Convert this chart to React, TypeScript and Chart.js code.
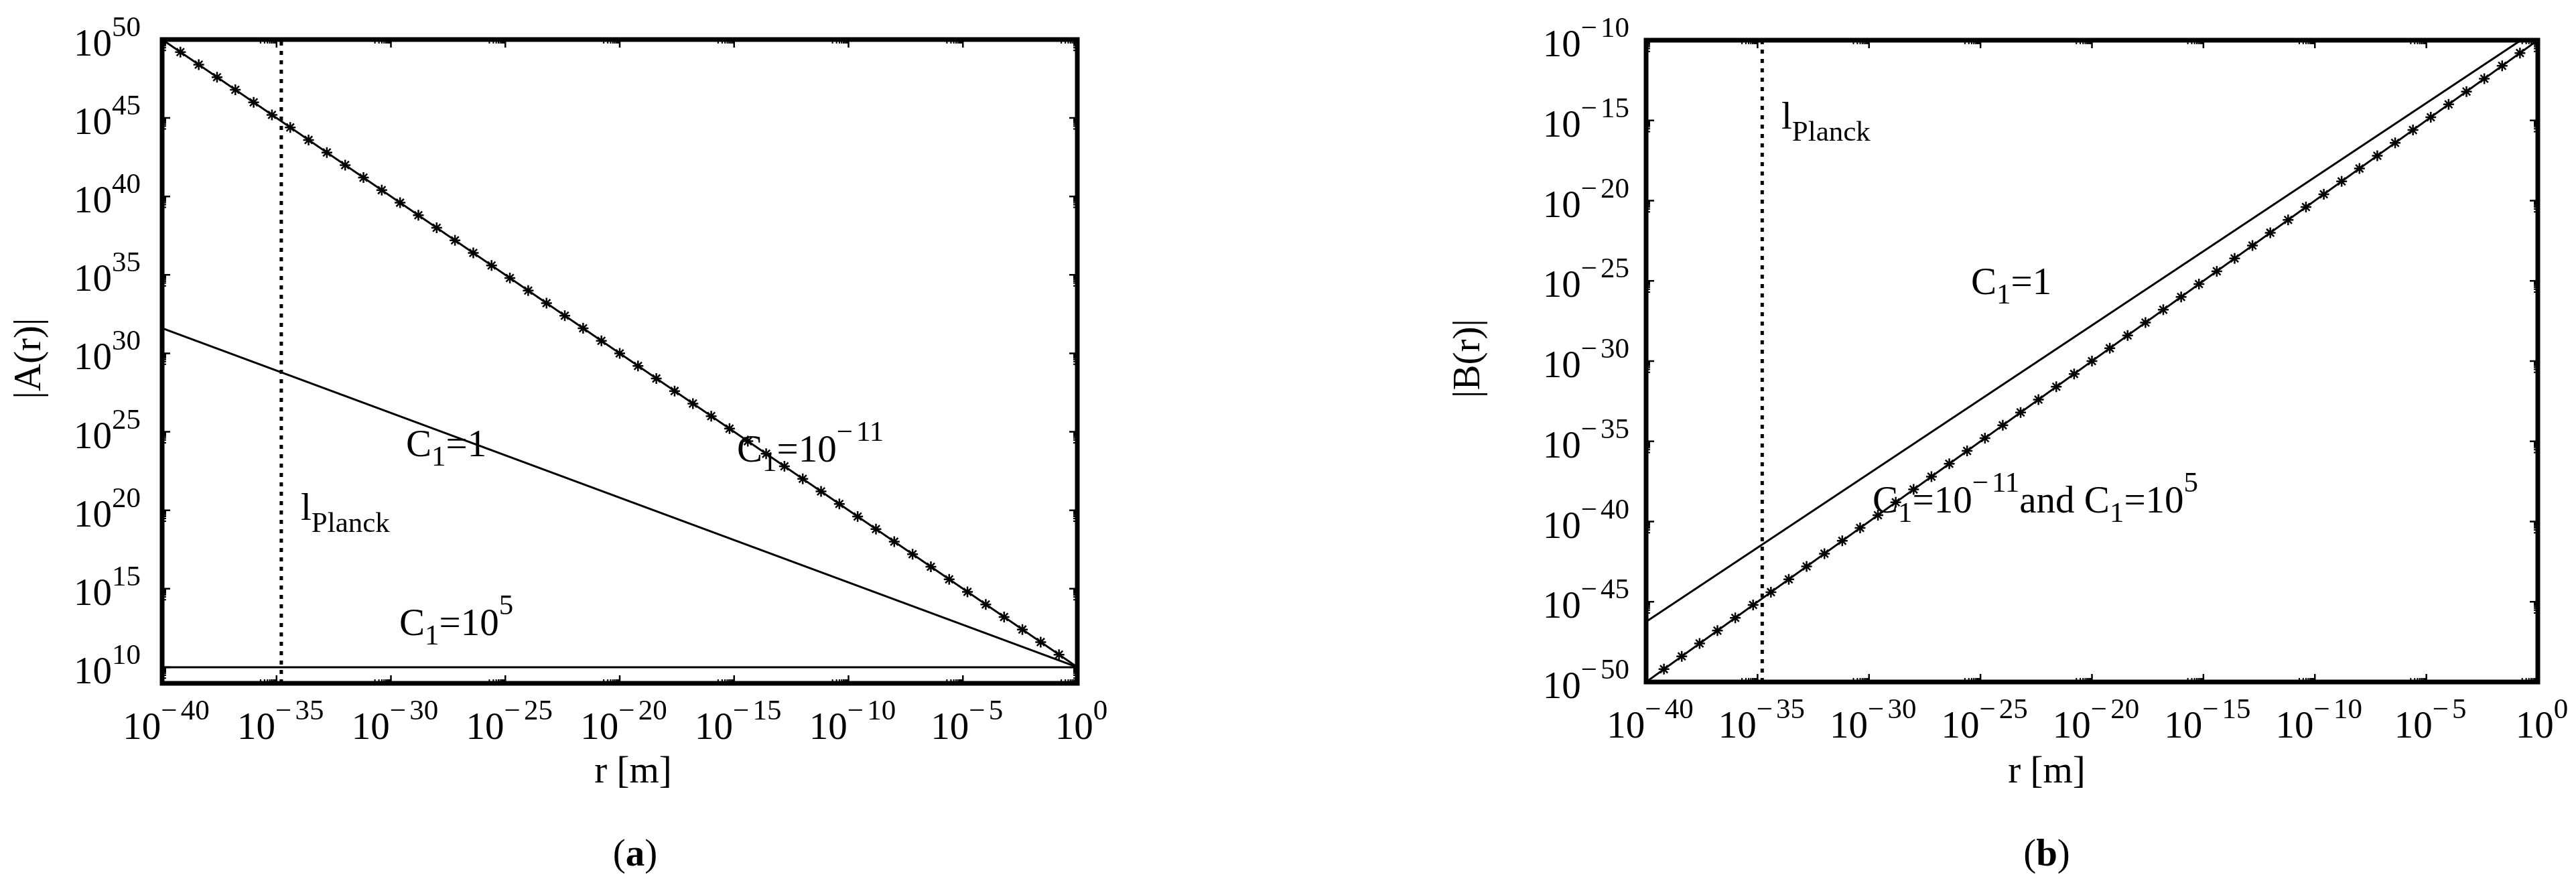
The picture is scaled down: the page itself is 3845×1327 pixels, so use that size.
import React, { useEffect, useRef } from "react";
import { Chart, registerables } from "chart.js";

Chart.register(...registerables);

const FONT = '"Liberation Serif", "DejaVu Serif", serif';

// ---- data (log10 exponents) ----
const planckLength = 1.616e-35;
const xTickExponents = [-40, -35, -30, -25, -20, -15, -10, -5, 0];
const aTickExponents = [10, 15, 20, 25, 30, 35, 40, 45, 50];
const bTickExponents = [-50, -45, -40, -35, -30, -25, -20, -15, -10];

const lineEndsR = [-40, 0];
const aC1Small = [50, 10]; // C1 = 1e-11
const aC1One = [31.6, 10]; // C1 = 1
const aC1Big = [10, 10]; // C1 = 1e5
const bC1SmallBig = [-50, -10]; // C1 = 1e-11 and C1 = 1e5
const bC1One = [-46.24, -9.3]; // C1 = 1

const markerR = [
  -39.2, -38.4, -37.6, -36.8, -36.0, -35.2, -34.4, -33.6, -32.8, -32.0, -31.2, -30.4, -29.6,
  -28.8, -28.0, -27.2, -26.4, -25.6, -24.8, -24.0, -23.2, -22.4, -21.6, -20.8, -20.0, -19.2,
  -18.4, -17.6, -16.8, -16.0, -15.2, -14.4, -13.6, -12.8, -12.0, -11.2, -10.4, -9.6, -8.8,
  -8.0, -7.2, -6.4, -5.6, -4.8, -4.0, -3.2, -2.4, -1.6, -0.8,
];
const aMarkerA = [
  49.2, 48.4, 47.6, 46.8, 46.0, 45.2, 44.4, 43.6, 42.8, 42.0, 41.2, 40.4, 39.6, 38.8, 38.0,
  37.2, 36.4, 35.6, 34.8, 34.0, 33.2, 32.4, 31.6, 30.8, 30.0, 29.2, 28.4, 27.6, 26.8, 26.0,
  25.2, 24.4, 23.6, 22.8, 22.0, 21.2, 20.4, 19.6, 18.8, 18.0, 17.2, 16.4, 15.6, 14.8, 14.0,
  13.2, 12.4, 11.6, 10.8,
];
const bMarkerB = [
  -49.2, -48.4, -47.6, -46.8, -46.0, -45.2, -44.4, -43.6, -42.8, -42.0, -41.2, -40.4, -39.6,
  -38.8, -38.0, -37.2, -36.4, -35.6, -34.8, -34.0, -33.2, -32.4, -31.6, -30.8, -30.0, -29.2,
  -28.4, -27.6, -26.8, -26.0, -25.2, -24.4, -23.6, -22.8, -22.0, -21.2, -20.4, -19.6, -18.8,
  -18.0, -17.2, -16.4, -15.6, -14.8, -14.0, -13.2, -12.4, -11.6, -10.8,
];

type Seg = [string, "n" | "sub" | "sup" | "b"];
type TextItem = { segs: Seg[]; x: number; y: number; align?: "left" | "center"; rotate?: boolean; subDrop?: number; supRise?: number };

const toXY = (rs: number[], vs: number[]) => rs.map((r, i) => ({ x: Math.pow(10, r), y: Math.pow(10, vs[i]) }));

const MAIN = 57;
const SMALL = 43;

function segFont(kind: string) {
  if (kind === "sub" || kind === "sup") return `${SMALL}px ${FONT}`;
  if (kind === "b") return `bold ${MAIN}px ${FONT}`;
  return `${MAIN}px ${FONT}`;
}

// minus sign gets a little extra room, as in the math typesetting of the original
function segWidth(ctx: CanvasRenderingContext2D, t: string) {
  let w = ctx.measureText(t).width;
  if (t.startsWith("\u2212")) w += 5;
  return w;
}

function drawSeg(ctx: CanvasRenderingContext2D, t: string, x: number, y: number) {
  if (t.startsWith("\u2212")) {
    ctx.fillText("\u2212", x, y);
    const mw = ctx.measureText("\u2212").width + 5;
    ctx.fillText(t.slice(1), x + mw, y);
  } else {
    ctx.fillText(t, x, y);
  }
}

function richWidth(ctx: CanvasRenderingContext2D, segs: Seg[]) {
  let total = 0;
  for (const [t, k] of segs) {
    ctx.font = segFont(k);
    total += segWidth(ctx, t);
  }
  return total;
}

function drawRich(ctx: CanvasRenderingContext2D, item: TextItem) {
  ctx.save();
  ctx.fillStyle = "#000";
  ctx.textBaseline = "alphabetic";
  ctx.textAlign = "left";
  const total = richWidth(ctx, item.segs);
  ctx.translate(item.x, item.y);
  if (item.rotate) ctx.rotate(-Math.PI / 2);
  let cx = item.align === "center" ? -total / 2 : 0;
  for (const [t, k] of item.segs) {
    ctx.font = segFont(k);
    const dy = k === "sub" ? item.subDrop ?? 14 : k === "sup" ? -(item.supRise ?? 31) : 0;
    drawSeg(ctx, t, cx, dy);
    cx += segWidth(ctx, t);
  }
  ctx.restore();
}

function powLabel(exp: number): Seg[] {
  return [
    ["10", "n"],
    [exp < 0 ? "\u2212" + Math.abs(exp) : String(exp), "sup"],
  ];
}

type PanelSpec = {
  padding: { left: number; right: number; top: number; bottom: number };
  yMinExp: number;
  yMaxExp: number;
  yTicks: number[];
  yLabelGap: number;
  datasets: any[];
  texts: TextItem[];
};

function framePlugin(spec: PanelSpec) {
  return {
    id: "frame",
    afterDraw(chart: any) {
      const { ctx, chartArea: ca } = chart;
      const xs = chart.scales.x;
      const ys = chart.scales.y;
      ctx.save();
      ctx.strokeStyle = "#000";
      ctx.lineCap = "butt";
      // x ticks (bottom and top, inward)
      for (const e of xTickExponents) {
        const px = xs.getPixelForValue(Math.pow(10, e));
        ctx.lineWidth = 2.5;
        ctx.beginPath();
        ctx.moveTo(px, ca.bottom);
        ctx.lineTo(px, ca.bottom - 12);
        ctx.moveTo(px, ca.top);
        ctx.lineTo(px, ca.top + 12);
        ctx.stroke();
        ctx.lineWidth = 2;
        for (let k = 2; k <= 9; k++) {
          const v = e - 1 + Math.log10(k);
          if (v < -40) continue;
          const q = xs.getPixelForValue(Math.pow(10, v));
          ctx.beginPath();
          ctx.moveTo(q, ca.bottom);
          ctx.lineTo(q, ca.bottom - 6);
          ctx.moveTo(q, ca.top);
          ctx.lineTo(q, ca.top + 6);
          ctx.stroke();
        }
      }
      // y ticks (left and right, inward)
      for (const e of spec.yTicks) {
        const py = ys.getPixelForValue(Math.pow(10, e));
        ctx.lineWidth = 2.5;
        ctx.beginPath();
        ctx.moveTo(ca.left, py);
        ctx.lineTo(ca.left + 12, py);
        ctx.moveTo(ca.right, py);
        ctx.lineTo(ca.right - 12, py);
        ctx.stroke();
        ctx.lineWidth = 2;
        for (let k = 2; k <= 9; k++) {
          const v = e - 1 + Math.log10(k);
          if (v < spec.yMinExp) continue;
          const q = ys.getPixelForValue(Math.pow(10, v));
          ctx.beginPath();
          ctx.moveTo(ca.left, q);
          ctx.lineTo(ca.left + 6, q);
          ctx.moveTo(ca.right, q);
          ctx.lineTo(ca.right - 6, q);
          ctx.stroke();
        }
      }
      // box
      ctx.lineWidth = 7;
      ctx.strokeRect(ca.left, ca.top, ca.right - ca.left, ca.bottom - ca.top);
      ctx.restore();

      // tick labels
      for (const e of xTickExponents) {
        const px = xs.getPixelForValue(Math.pow(10, e));
        drawRich(ctx, { segs: powLabel(e), x: px + 6, y: ca.bottom + 83, align: "center", supRise: 29 });
      }
      for (const e of spec.yTicks) {
        const py = ys.getPixelForValue(Math.pow(10, e));
        const segs = powLabel(e);
        const w = richWidth(ctx, segs);
        drawRich(ctx, { segs, x: ca.left - spec.yLabelGap - w, y: py + 24, supRise: 29 });
      }
      for (const t of spec.texts) drawRich(ctx, t);
    },
  };
}

function buildConfig(spec: PanelSpec): any {
  return {
    type: "scatter",
    data: { datasets: spec.datasets },
    options: {
      responsive: false,
      animation: false,
      devicePixelRatio: 1,
      layout: { padding: spec.padding },
      plugins: { legend: { display: false }, tooltip: { enabled: false } },
      events: [],
      scales: {
        x: { type: "logarithmic", min: 1e-40, max: 1, display: false },
        y: { type: "logarithmic", min: Math.pow(10, spec.yMinExp), max: Math.pow(10, spec.yMaxExp), display: false },
      },
    },
    plugins: [framePlugin(spec)],
  };
}

const lineDs = (data: any[]) => ({
  data,
  showLine: true,
  borderColor: "#000",
  borderWidth: 3,
  pointRadius: 0,
  tension: 0,
});
const markerDs = (data: any[]) => ({
  data,
  showLine: false,
  pointStyle: "star",
  pointRadius: 8,
  borderWidth: 2.5,
  borderColor: "#000",
  backgroundColor: "#000",
});
const planckDs = (yMinExp: number, yMaxExp: number) => ({
  data: [
    { x: planckLength, y: Math.pow(10, yMinExp) },
    { x: planckLength, y: Math.pow(10, yMaxExp) },
  ],
  showLine: true,
  borderColor: "#000",
  borderWidth: 5,
  borderDash: [6, 8],
  pointRadius: 0,
});

const A_YMIN = 8.97;
const panelA: PanelSpec = {
  padding: { left: 242, top: 59, right: 1920 - 1608, bottom: 1327 - 1020 },
  yMinExp: A_YMIN,
  yMaxExp: 50,
  yTicks: aTickExponents,
  yLabelGap: 32,
  datasets: [
    planckDs(A_YMIN, 50),
    lineDs(toXY(lineEndsR, aC1Small)),
    lineDs(toXY(lineEndsR, aC1One)),
    lineDs(toXY(lineEndsR, aC1Big)),
    markerDs(toXY(markerR, aMarkerA)),
  ],
  texts: [
    { segs: [["l", "n"], ["Planck", "sub"]], x: 449, y: 776, subDrop: 18 },
    { segs: [["C", "n"], ["1", "sub"], ["=1", "n"]], x: 606, y: 681 },
    { segs: [["C", "n"], ["1", "sub"], ["=10", "n"], ["\u221211", "sup"]], x: 1100, y: 689 },
    { segs: [["C", "n"], ["1", "sub"], ["=10", "n"], ["5", "sup"]], x: 596, y: 948 },
    { segs: [["|A(r)|", "n"]], x: 60, y: 535, align: "center", rotate: true },
    { segs: [["r [m]", "n"]], x: 945, y: 1168, align: "center" },
    { segs: [["(", "n"], ["a", "b"], [")", "n"]], x: 948, y: 1292, align: "center" },
  ],
};

const OFF = 1920;
const panelB: PanelSpec = {
  padding: { left: 2457 - OFF, top: 60, right: 1925 - (3788 - OFF), bottom: 1327 - 1018 },
  yMinExp: -50,
  yMaxExp: -10,
  yTicks: bTickExponents,
  yLabelGap: 25,
  datasets: [
    planckDs(-50, -10),
    lineDs(toXY(lineEndsR, bC1SmallBig)),
    lineDs(toXY(lineEndsR, bC1One)),
    markerDs(toXY(markerR, bMarkerB)),
  ],
  texts: [
    { segs: [["l", "n"], ["Planck", "sub"]], x: 2659 - OFF, y: 192, subDrop: 18 },
    { segs: [["C", "n"], ["1", "sub"], ["=1", "n"]], x: 2942 - OFF, y: 439 },
    {
      segs: [
        ["C", "n"], ["1", "sub"], ["=10", "n"], ["\u221211", "sup"],
        ["and C", "n"], ["1", "sub"], ["=10", "n"], ["5", "sup"],
      ],
      x: 2795 - OFF,
      y: 765,
    },
    { segs: [["|B(r)|", "n"]], x: 2208 - OFF, y: 535, align: "center", rotate: true },
    { segs: [["r [m]", "n"]], x: 3055 - OFF, y: 1168, align: "center" },
    { segs: [["(", "n"], ["b", "b"], [")", "n"]], x: 3055 - OFF, y: 1292, align: "center" },
  ],
};

export default function App() {
  const refA = useRef<HTMLCanvasElement>(null);
  const refB = useRef<HTMLCanvasElement>(null);
  useEffect(() => {
    const ca = new Chart(refA.current as HTMLCanvasElement, buildConfig(panelA));
    const cb = new Chart(refB.current as HTMLCanvasElement, buildConfig(panelB));
    return () => {
      ca.destroy();
      cb.destroy();
    };
  }, []);
  return (
    <div style={{ position: "absolute", left: 0, top: 0, width: 3845, height: 1327, background: "#fff", overflow: "hidden" }}>
      <canvas
        ref={refA}
        width={1920}
        height={1327}
        style={{ position: "absolute", left: 0, top: 0, width: 1920, height: 1327, display: "block" }}
      />
      <canvas
        ref={refB}
        width={1925}
        height={1327}
        style={{ position: "absolute", left: OFF, top: 0, width: 1925, height: 1327, display: "block" }}
      />
    </div>
  );
}
